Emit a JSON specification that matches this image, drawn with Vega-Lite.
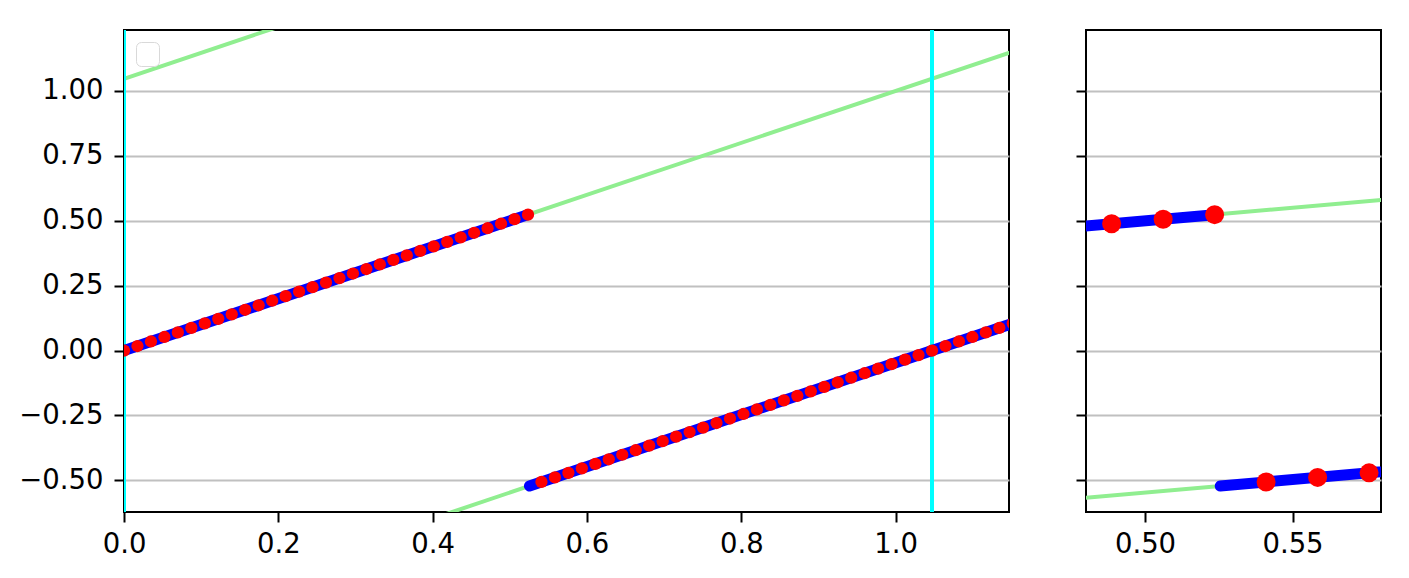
{
  "$schema": "https://vega.github.io/schema/vega-lite/v6.json",
  "background": "white",
  "padding": {"left": 17, "top": 29, "right": 5, "bottom": 5},
  "config": {
    "font": "DejaVu Sans",
    "view": {"stroke": "black", "strokeWidth": 2},
    "axis": {
      "labelFont": "DejaVu Sans", "labelFontSize": 27.5, "labelColor": "black",
      "tickColor": "black", "tickWidth": 2, "tickSize": 10, "labelFlush": false,
      "domain": false, "title": null, "grid": false,
      "gridColor": "#c0c0c0", "gridWidth": 2
    },
    "axisY": {"grid": true, "labelPadding": 11},
    "axisX": {"labelPadding": 8}
  },
  "resolve": {"legend": {"color": "independent"}, "scale": {"color": "independent"}},
  "spacing": 64,
  "datasets": {
    "green": [
      {"line": "a", "x": 0, "y": -1.0472}, {"line": "a", "x": 1.2, "y": 0.1528},
      {"line": "b", "x": 0, "y": 0}, {"line": "b", "x": 1.2, "y": 1.2},
      {"line": "c", "x": 0, "y": 1.0472}, {"line": "c", "x": 1.2, "y": 2.2472}
    ],
    "cyan": [{"x": 0}, {"x": 1.0472}],
    "blue": [
      {"seg": "s1", "x": 0, "y": 0}, {"seg": "s1", "x": 0.5236, "y": 0.5236},
      {"seg": "s2", "x": 0.5255, "y": -0.5217}, {"seg": "s2", "x": 1.2, "y": 0.1528}
    ],
    "red": [
      {"x": 0, "y": 0}, {"x": 0.01745, "y": 0.01745}, {"x": 0.03491, "y": 0.03491}, {"x": 0.05236, "y": 0.05236},
      {"x": 0.06981, "y": 0.06981}, {"x": 0.08727, "y": 0.08727}, {"x": 0.10472, "y": 0.10472}, {"x": 0.12217, "y": 0.12217},
      {"x": 0.13963, "y": 0.13963}, {"x": 0.15708, "y": 0.15708}, {"x": 0.17453, "y": 0.17453}, {"x": 0.19199, "y": 0.19199},
      {"x": 0.20944, "y": 0.20944}, {"x": 0.22689, "y": 0.22689}, {"x": 0.24435, "y": 0.24435}, {"x": 0.2618, "y": 0.2618},
      {"x": 0.27925, "y": 0.27925}, {"x": 0.29671, "y": 0.29671}, {"x": 0.31416, "y": 0.31416}, {"x": 0.33161, "y": 0.33161},
      {"x": 0.34907, "y": 0.34907}, {"x": 0.36652, "y": 0.36652}, {"x": 0.38397, "y": 0.38397}, {"x": 0.40143, "y": 0.40143},
      {"x": 0.41888, "y": 0.41888}, {"x": 0.43633, "y": 0.43633}, {"x": 0.45379, "y": 0.45379}, {"x": 0.47124, "y": 0.47124},
      {"x": 0.48869, "y": 0.48869}, {"x": 0.50615, "y": 0.50615}, {"x": 0.5236, "y": 0.5236},
      {"x": 0.54105, "y": -0.50615}, {"x": 0.55851, "y": -0.48869}, {"x": 0.57596, "y": -0.47124}, {"x": 0.59341, "y": -0.45379},
      {"x": 0.61087, "y": -0.43633}, {"x": 0.62832, "y": -0.41888}, {"x": 0.64577, "y": -0.40143}, {"x": 0.66323, "y": -0.38397},
      {"x": 0.68068, "y": -0.36652}, {"x": 0.69813, "y": -0.34907}, {"x": 0.71558, "y": -0.33161}, {"x": 0.73304, "y": -0.31416},
      {"x": 0.75049, "y": -0.29671}, {"x": 0.76794, "y": -0.27925}, {"x": 0.7854, "y": -0.2618}, {"x": 0.80285, "y": -0.24435},
      {"x": 0.8203, "y": -0.22689}, {"x": 0.83776, "y": -0.20944}, {"x": 0.85521, "y": -0.19199}, {"x": 0.87266, "y": -0.17453},
      {"x": 0.89012, "y": -0.15708}, {"x": 0.90757, "y": -0.13963}, {"x": 0.92502, "y": -0.12217}, {"x": 0.94248, "y": -0.10472},
      {"x": 0.95993, "y": -0.08727}, {"x": 0.97738, "y": -0.06981}, {"x": 0.99484, "y": -0.05236}, {"x": 1.01229, "y": -0.03491},
      {"x": 1.02974, "y": -0.01745}, {"x": 1.0472, "y": 0}, {"x": 1.06465, "y": 0.01745}, {"x": 1.0821, "y": 0.03491},
      {"x": 1.09956, "y": 0.05236}, {"x": 1.11701, "y": 0.06981}, {"x": 1.13446, "y": 0.08727}, {"x": 1.15192, "y": 0.10472}
    ]
  },
  "hconcat": [
    {
      "width": 885,
      "height": 482,
      "layer": [
        {
          "data": {"name": "green"},
          "mark": {"type": "line", "strokeWidth": 4, "clip": true},
          "encoding": {
            "x": {"field": "x", "type": "quantitative",
                  "scale": {"domain": [0, 1.147], "nice": false, "zero": false},
                  "axis": {"values": [0, 0.2, 0.4, 0.6, 0.8, 1.0], "format": ".1f"}},
            "y": {"field": "y", "type": "quantitative",
                  "scale": {"domain": [-0.622, 1.235], "nice": false, "zero": false},
                  "axis": {"values": [-0.5, -0.25, 0, 0.25, 0.5, 0.75, 1.0], "format": ".2f"}},
            "detail": {"field": "line", "type": "nominal"},
            "color": {"datum": "g", "type": "nominal", "scale": {"range": ["#90ee90"]},
                      "legend": {"orient": "top-left", "offset": 12, "padding": 10, "strokeColor": "#d9d9d9",
                                 "cornerRadius": 5, "fillColor": "white", "symbolOpacity": 0,
                                 "symbolSize": 4, "symbolStrokeWidth": 0, "labelExpr": "''", "labelFontSize": 3,
                                 "labelOffset": 0, "title": null}}
          }
        },
        {
          "data": {"name": "cyan"},
          "mark": {"type": "rule", "color": "#00ffff", "strokeWidth": 4, "clip": true},
          "encoding": {"x": {"field": "x", "type": "quantitative"}}
        },
        {
          "data": {"name": "blue"},
          "mark": {"type": "line", "color": "#0000ff", "strokeWidth": 11, "strokeCap": "round", "clip": true},
          "encoding": {
            "x": {"field": "x", "type": "quantitative"},
            "y": {"field": "y", "type": "quantitative"},
            "detail": {"field": "seg", "type": "nominal"}
          }
        },
        {
          "data": {"name": "red"},
          "mark": {"type": "point", "shape": "circle", "filled": true, "color": "#ff0000", "opacity": 1, "size": 150, "clip": true},
          "encoding": {
            "x": {"field": "x", "type": "quantitative"},
            "y": {"field": "y", "type": "quantitative"}
          }
        }
      ]
    },
    {
      "width": 295,
      "height": 482,
      "layer": [
        {
          "data": {"name": "green"},
          "mark": {"type": "line", "color": "#90ee90", "strokeWidth": 4, "clip": true},
          "encoding": {
            "x": {"field": "x", "type": "quantitative",
                  "scale": {"domain": [0.48, 0.58], "nice": false, "zero": false},
                  "axis": {"values": [0.5, 0.55], "format": ".2f"}},
            "y": {"field": "y", "type": "quantitative",
                  "scale": {"domain": [-0.622, 1.235], "nice": false, "zero": false},
                  "axis": {"values": [-0.5, -0.25, 0, 0.25, 0.5, 0.75, 1.0], "labels": false}},
            "detail": {"field": "line", "type": "nominal"}
          }
        },
        {
          "data": {"name": "blue"},
          "mark": {"type": "line", "color": "#0000ff", "strokeWidth": 11, "strokeCap": "round", "clip": true},
          "encoding": {
            "x": {"field": "x", "type": "quantitative"},
            "y": {"field": "y", "type": "quantitative"},
            "detail": {"field": "seg", "type": "nominal"}
          }
        },
        {
          "data": {"name": "red"},
          "mark": {"type": "point", "shape": "circle", "filled": true, "color": "#ff0000", "opacity": 1, "size": 361, "clip": true},
          "encoding": {
            "x": {"field": "x", "type": "quantitative"},
            "y": {"field": "y", "type": "quantitative"}
          }
        }
      ]
    }
  ]
}
